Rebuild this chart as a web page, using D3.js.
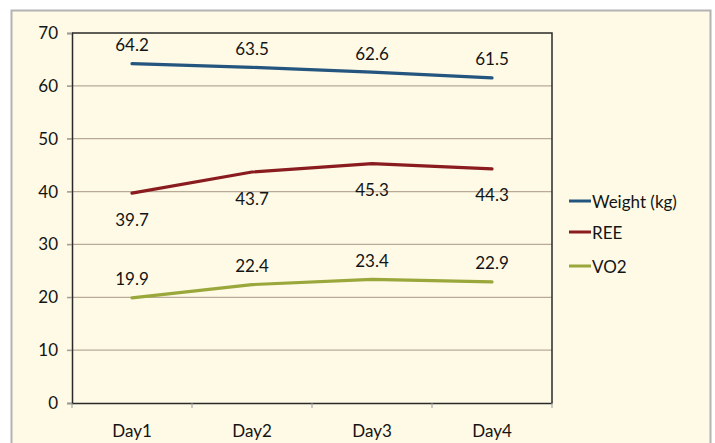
<!DOCTYPE html>
<html>
<head>
<meta charset="utf-8">
<script src="https://cdn.jsdelivr.net/npm/d3@7/dist/d3.min.js"></script>
<style>
  html, body { margin: 0; padding: 0; background: #ffffff; }
  svg { display: block; }
  text { font-family: Lato, "Open Sans", sans-serif; fill: #141414; }
</style>
</head>
<body>
<div id="chart"></div>
<script>
// Categories and series values
const days = ["Day1", "Day2", "Day3", "Day4"];
const weight = [64.2, 63.5, 62.6, 61.5];
const ree = [39.7, 43.7, 45.3, 44.3];
const vo2 = [19.9, 22.4, 23.4, 22.9];
const seriesNames = ["Weight (kg)", "REE", "VO2"];
const yTicks = [0, 10, 20, 30, 40, 50, 60, 70];

const W = 715, H = 443;
const plot = { left: 72, right: 552, top: 33, bottom: 403 };
const fontSize = "17px";

const svg = d3.select("#chart").append("svg")
  .attr("width", W).attr("height", H);

// chart frame
svg.append("rect")
  .attr("x", 11.5).attr("y", 10.5)
  .attr("width", 699).attr("height", 450)
  .attr("fill", "#fefae6")
  .attr("stroke", "#b3b3b3").attr("stroke-width", 2);

const x = d3.scaleBand().domain(days).range([plot.left, plot.right]).padding(0);
const y = d3.scaleLinear().domain([0, 70]).range([plot.bottom, plot.top]);

// horizontal gridlines
svg.append("g").selectAll("line")
  .data(yTicks.filter(t => t > 0 && t < 70))
  .join("line")
  .attr("x1", plot.left - 5).attr("x2", plot.right)
  .attr("y1", d => y(d)).attr("y2", d => y(d))
  .attr("stroke", "#b9aa98").attr("stroke-width", 1.2);

// y axis
const yAxis = svg.append("g")
  .attr("transform", `translate(${plot.left},0)`)
  .call(d3.axisLeft(y).tickValues(yTicks).tickSize(5).tickPadding(9));
yAxis.select(".domain").attr("stroke", "#2a2a2a").attr("stroke-width", 1.5);
yAxis.selectAll(".tick line").attr("stroke", "#9a9a9a");
yAxis.selectAll("text").style("font-size", fontSize).attr("fill", "#141414");

// x axis
const xAxis = svg.append("g")
  .attr("transform", `translate(0,${plot.bottom})`)
  .call(d3.axisBottom(x).tickSize(0).tickPadding(22));
xAxis.select(".domain").attr("stroke", "#2a2a2a").attr("stroke-width", 1.5);
xAxis.selectAll("text").style("font-size", fontSize).attr("fill", "#141414");

// category boundary ticks
const bounds = days.map(d => x(d)).concat([x(days[days.length - 1]) + x.bandwidth()]);
svg.append("g").selectAll("line").data(bounds).join("line")
  .attr("x1", d => d).attr("x2", d => d)
  .attr("y1", plot.bottom).attr("y2", plot.bottom + 5)
  .attr("stroke", "#9a9a9a").attr("stroke-width", 1);

// top and right frame of the plot area
svg.append("path")
  .attr("d", `M${plot.left},${y(70)}H${plot.right}V${plot.bottom}`)
  .attr("fill", "none").attr("stroke", "#2a2a2a").attr("stroke-width", 1.5);

const cx = d => x(d) + x.bandwidth() / 2;

const series = [
  { name: seriesNames[0], values: weight, color: "#24557f", dy: -19 },
  { name: seriesNames[1], values: ree, color: "#8a1c1f", dy: 26 },
  { name: seriesNames[2], values: vo2, color: "#9aa73a", dy: -19 }
];

const line = d3.line().x(d => cx(d.day)).y(d => y(d.v));

series.forEach(s => {
  const pts = days.map((d, i) => ({ day: d, v: s.values[i] }));
  svg.append("path")
    .datum(pts)
    .attr("d", line)
    .attr("fill", "none")
    .attr("stroke", s.color)
    .attr("stroke-width", 3.2)
    .attr("stroke-linecap", "round")
    .attr("stroke-linejoin", "round");

  svg.append("g").selectAll("text").data(pts).join("text")
    .attr("x", d => cx(d.day))
    .attr("y", d => y(d.v) + s.dy)
    .attr("text-anchor", "middle")
    .attr("dominant-baseline", "central")
    .style("font-size", fontSize)
    .text(d => d.v.toFixed(1));
});

// legend
const legend = svg.append("g").attr("transform", "translate(569,0)");
const legendY = [201, 232, 266];
series.forEach((s, i) => {
  legend.append("line")
    .attr("x1", 0).attr("x2", 22)
    .attr("y1", legendY[i]).attr("y2", legendY[i])
    .attr("stroke", s.color).attr("stroke-width", 3);
  legend.append("text")
    .attr("x", 23).attr("y", legendY[i])
    .attr("dominant-baseline", "central")
    .style("font-size", fontSize)
    .text(s.name);
});
</script>
</body>
</html>
